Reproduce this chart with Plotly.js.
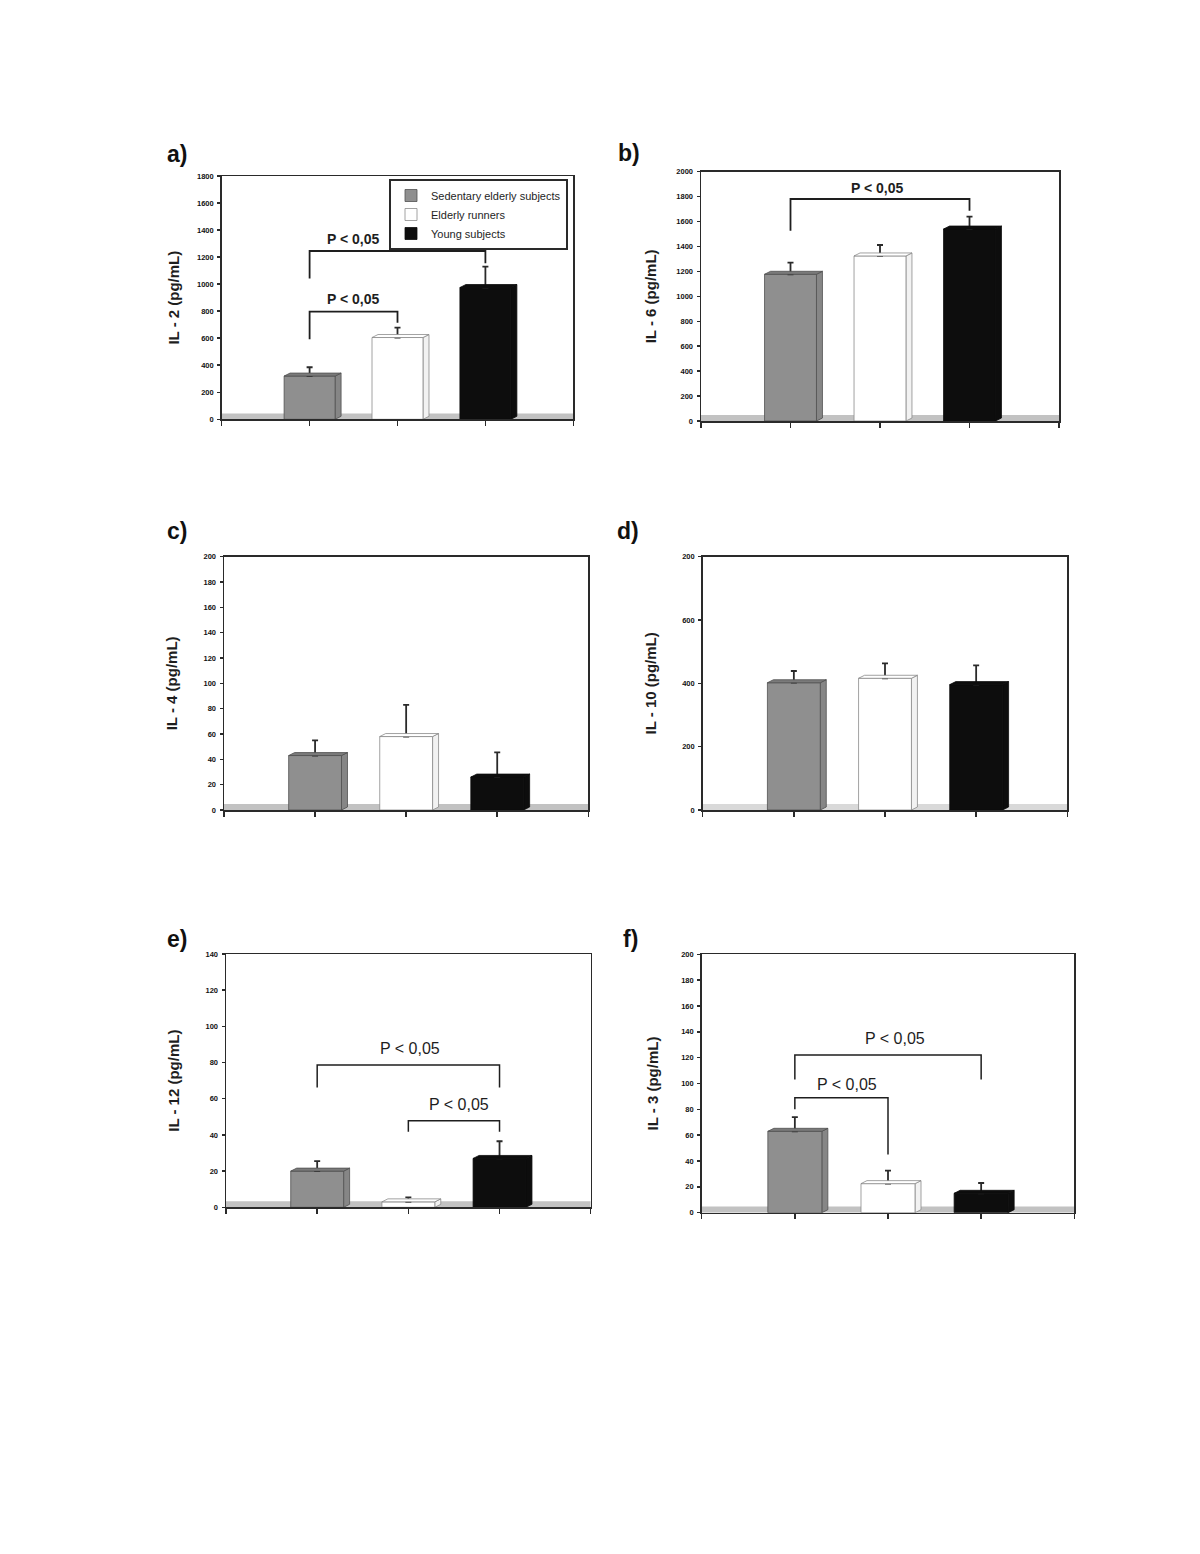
<!DOCTYPE html>
<html><head><meta charset="utf-8">
<script src="https://cdn.plot.ly/plotly-3.0.1.min.js"></script>
<style>html,body{margin:0;padding:0;background:#fff}</style>
</head><body><div id="chart" style="width:1200px;height:1554px"></div>
<script>
// ---------------- data ----------------
const groups = ["Sedentary elderly subjects", "Elderly runners", "Young subjects"];
const panelLabels = ["a)", "b)", "c)", "d)", "e)", "f)"];
const yTitles = ["IL - 2 (pg/mL)", "IL - 6 (pg/mL)", "IL - 4 (pg/mL)", "IL - 10 (pg/mL)", "IL - 12 (pg/mL)", "IL - 3 (pg/mL)"];
const yMax = [1800, 2000, 200, 800, 140, 200];
const yStep = [200, 200, 20, 200, 20, 20];
const il10TickVals = [0, 200, 400, 600, 800];
const il10TickText = ["0", "200", "400", "600", "200"]; // as printed in the figure

const il2Mean = [320, 605, 975],   il2Err = [65, 73, 155];
const il6Mean = [1177, 1324, 1540], il6Err = [93, 88, 100];
const il4Mean = [43, 58, 26],      il4Err = [12, 25, 19.5];
const il10Mean = [402, 416, 396],  il10Err = [37, 47, 61];
const il12Mean = [20, 3, 27],      il12Err = [5.5, 2.5, 9.5];
const il3Mean = [63, 22.5, 15],    il3Err = [11, 10, 8];

// brackets: [xLeft, xRight, yBar, yLeftEnd, yRightEnd, textX, textY]
const il2Brackets = [[1, 3, 1245, 1041, 1154, 1.5, 1334], [1, 2, 796, 592, 715, 1.5, 888]];
const il6Brackets = [[1, 3, 1781, 1527, 1687, 1.97, 1866]];
const il12Brackets = [[1, 3, 78.7, 66.2, 66.2, 2.02, 88], [2, 3, 47.9, 41.8, 41.8, 2.55, 57]];
const il3Brackets = [[1, 3, 122, 103, 103, 2.08, 134.6], [1, 2, 89, 80, 45, 1.56, 99.6]];
const pText = "P < 0,05";

const means = [il2Mean, il6Mean, il4Mean, il10Mean, il12Mean, il3Mean];
const errs = [il2Err, il6Err, il4Err, il10Err, il12Err, il3Err];
const brackets = [il2Brackets, il6Brackets, [], [], il12Brackets, il3Brackets];

// ---------------- layout / style ----------------
const W = 1200, H = 1554;
const boxes = [ // plot area in px: left, top, right, bottom
  [221.7, 176, 573.3, 419.3],
  [701, 171.7, 1059, 421],
  [224, 556.7, 588.3, 810],
  [702.7, 556.7, 1067.3, 810],
  [226, 954, 590.7, 1207.3],
  [701.7, 954.3, 1074.3, 1212.7]
];
const titleStandoff = [14, 16, 22, 22, 22, 19];
const labelPos = [[177, 154], [629, 153], [177, 531], [628, 531], [177, 939], [630, 939]];
const pBold = [true, true, false, false, false, false];
const front = ["#8f8f8f", "#ffffff", "#0d0d0d"];
const topC = ["#7a7a7a", "#ffffff", "#0d0d0d"];
const sideC = ["#868686", "#f2f2f2", "#0d0d0d"];
const outline = ["#505050", "#8a8a8a", "#0d0d0d"];
const ink = "#1e1e1e";
const FONT = "Liberation Sans, Arial, sans-serif";
const BW = 0.58;

const data = [];
const layout = {
  width: W, height: H, margin: {l: 0, r: 0, t: 0, b: 0},
  paper_bgcolor: "#fff", plot_bgcolor: "#fff",
  barmode: "overlay", showlegend: true,
  font: {family: FONT, color: ink},
  legend: {
    x: 568 / W, xanchor: "right", y: 1 - 179 / H, yanchor: "top",
    bgcolor: "#fff", bordercolor: "#2a2a2a", borderwidth: 2,
    font: {size: 11, family: FONT, color: ink}, itemwidth: 30, tracegroupgap: 0
  },
  shapes: [], annotations: []
};

for (let p = 0; p < 6; p++) {
  const k = p === 0 ? "" : String(p + 1);
  const xa = "x" + k, ya = "y" + k;
  const [L, T, R, B] = boxes[p];
  const pxPerX = (R - L) / 4;
  const dx = 6 / pxPerX;
  const dy = 3 / (B - T) * yMax[p];

  layout["xaxis" + k] = {
    domain: [L / W, R / W], range: [0, 4], anchor: ya,
    tickmode: "array", tickvals: [0, 1, 2, 3, 4], showticklabels: false,
    ticks: "outside", ticklen: 5, tickwidth: 1.5, tickcolor: "#2a2a2a",
    showline: true, linecolor: "#2a2a2a", linewidth: 1.5, mirror: true,
    showgrid: false, zeroline: false, fixedrange: true
  };
  const yax = {
    domain: [1 - B / H, 1 - T / H], range: [0, yMax[p]], anchor: xa,
    tick0: 0, dtick: yStep[p],
    ticks: "outside", ticklen: 3, tickwidth: 1.5, tickcolor: "#2a2a2a",
    ticklabelstandoff: 2,
    tickfont: {size: 7.5, family: FONT, color: "#111", weight: "bold"},
    showline: true, linecolor: "#2a2a2a", linewidth: 1.5, mirror: true,
    showgrid: false, zeroline: false, fixedrange: true,
    title: {text: yTitles[p], font: {size: 15, family: FONT, color: ink, weight: "bold"}, standoff: titleStandoff[p]}
  };
  if (p === 3) { yax.tickmode = "array"; yax.tickvals = il10TickVals; yax.ticktext = il10TickText; }
  layout["yaxis" + k] = yax;

  // floor band
  layout.shapes.push({type: "rect", xref: xa, yref: ya, x0: 0, x1: 4, y0: 0, y1: yMax[p] * 0.024,
    fillcolor: p === 3 ? "#d9d9d9" : "#c2c2c2", line: {width: 0}, layer: "below"});

  for (let g = 0; g < 3; g++) {
    const v = means[p][g];
    const xc = g + 1;
    data.push({
      type: "bar", name: groups[g], legendgroup: groups[g], showlegend: p === 0,
      x: [xc], y: [v], width: [BW], xaxis: xa, yaxis: ya,
      marker: {color: front[g], line: {color: outline[g], width: 0.8}},
      error_y: {type: "data", symmetric: false, array: [errs[p][g]], arrayminus: [0],
        color: "#2a2a2a", thickness: 1.8, width: 3},
      hoverinfo: "skip"
    });
    const x0 = xc - BW / 2, x1 = xc + BW / 2;
    // side face
    layout.shapes.push({type: "path", xref: xa, yref: ya, layer: "below",
      path: `M ${x1},0 L ${x1 + dx},${dy} L ${x1 + dx},${v + dy} L ${x1},${v} Z`,
      fillcolor: sideC[g], line: {color: outline[g], width: 0.8}});
    // top face (drawn over the foot of the error bar)
    layout.shapes.push({type: "path", xref: xa, yref: ya, layer: "above",
      path: `M ${x0},${v} L ${x0 + dx},${v + dy} L ${x1 + dx},${v + dy} L ${x1},${v} Z`,
      fillcolor: topC[g], line: {color: outline[g], width: 0.8}});
  }

  for (const br of brackets[p]) {
    const [xl, xr, yb, yl, yr, tx, ty] = br;
    layout.shapes.push({type: "path", xref: xa, yref: ya, layer: "above",
      path: `M ${xl},${yl} L ${xl},${yb} L ${xr},${yb} L ${xr},${yr}`,
      line: {color: ink, width: pBold[p] ? 1.8 : 1.5}});
    layout.annotations.push({xref: xa, yref: ya, x: tx, y: ty, text: pText, showarrow: false,
      xanchor: "center", yanchor: "middle",
      font: pBold[p] ? {size: 14, family: FONT, color: ink, weight: "bold"} : {size: 16, family: FONT, color: ink}});
  }

  layout.annotations.push({xref: "paper", yref: "paper", x: labelPos[p][0] / W, y: 1 - labelPos[p][1] / H,
    text: panelLabels[p], showarrow: false, xanchor: "center", yanchor: "middle",
    font: {size: 23, family: FONT, color: "#111", weight: "bold"}});
}

Plotly.newPlot("chart", data, layout, {displayModeBar: false, staticPlot: true});
</script>
</body></html>
